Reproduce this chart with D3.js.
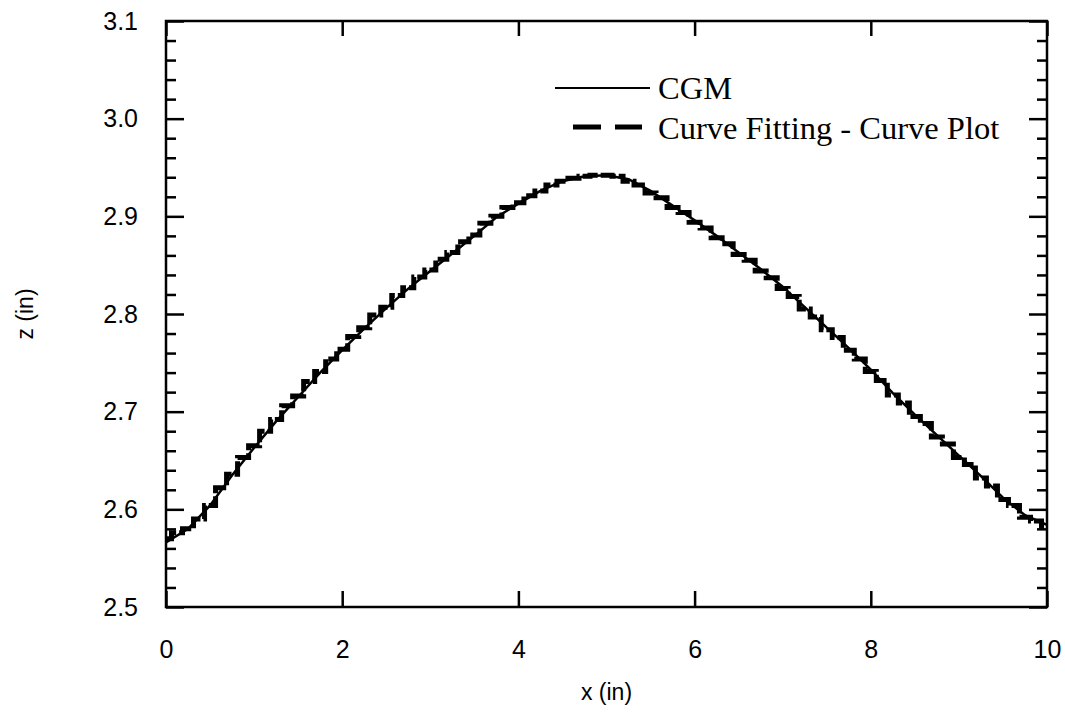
<!DOCTYPE html>
<html>
<head>
<meta charset="utf-8">
<script src="https://cdn.jsdelivr.net/npm/d3@7"></script>
<style>
  html, body { margin: 0; padding: 0; background: #fff; }
  svg { display: block; }
  .tick text { font-family: "Liberation Sans", Arial, sans-serif; font-size: 25px; fill: #000; }
</style>
</head>
<body>
<svg id="chart" width="1065" height="712"></svg>
<script>
// ---- data ----
const xDomain = [0, 10];
const zDomain = [2.5, 3.1];
const xTickValues = [0, 2, 4, 6, 8, 10];
const xTickLabels = ["0", "2", "4", "6", "8", "10"];
const zMajorTicks = [2.5, 2.6, 2.7, 2.8, 2.9, 3.0, 3.1];
const zTickLabels = ["2.5", "2.6", "2.7", "2.8", "2.9", "3.0", "3.1"];
const zMinorTicks = [2.52, 2.54, 2.56, 2.58, 2.62, 2.64, 2.66, 2.68, 2.72, 2.74, 2.76, 2.78,
                     2.82, 2.84, 2.86, 2.88, 2.92, 2.94, 2.96, 2.98, 3.02, 3.04, 3.06, 3.08];

const seriesNames = ["CGM", "Curve Fitting - Curve Plot"];

const cgmX = [0, 0.25, 0.5, 0.75, 1.0, 1.25, 1.5, 1.75, 2.0, 2.25, 2.5, 2.75, 3.0, 3.25, 3.5, 3.75,
              4.0, 4.25, 4.5, 4.75, 5.0, 5.25, 5.5, 5.75, 6.0, 6.25, 6.5, 6.75, 7.0, 7.25, 7.5, 7.75,
              8.0, 8.25, 8.5, 8.75, 9.0, 9.25, 9.5, 9.75, 10.0];
const cgmZ = [2.566, 2.580, 2.604, 2.635, 2.663, 2.690, 2.715, 2.740, 2.763, 2.785, 2.806, 2.826,
              2.844, 2.862, 2.880, 2.899, 2.913, 2.926, 2.936, 2.941, 2.942, 2.938, 2.926, 2.911,
              2.896, 2.880, 2.863, 2.846, 2.828, 2.807, 2.786, 2.765, 2.743, 2.719, 2.697, 2.676,
              2.655, 2.634, 2.612, 2.594, 2.584];

const fitX = [0, 0.125, 0.25, 0.375, 0.5, 0.625, 0.75, 0.875, 1.0, 1.125, 1.25, 1.375, 1.5, 1.625,
              1.75, 1.875, 2.0, 2.125, 2.25, 2.375, 2.5, 2.625, 2.75, 2.875, 3.0, 3.125, 3.25, 3.375,
              3.5, 3.625, 3.75, 3.875, 4.0, 4.125, 4.25, 4.375, 4.5, 4.625, 4.75, 4.875, 5.0, 5.125,
              5.25, 5.375, 5.5, 5.625, 5.75, 5.875, 6.0, 6.125, 6.25, 6.375, 6.5, 6.625, 6.75, 6.875,
              7.0, 7.125, 7.25, 7.375, 7.5, 7.625, 7.75, 7.875, 8.0, 8.125, 8.25, 8.375, 8.5, 8.625,
              8.75, 8.875, 9.0, 9.125, 9.25, 9.375, 9.5, 9.625, 9.75, 9.875, 10.0];
const fitZ = [2.570, 2.576, 2.580, 2.590, 2.604, 2.622, 2.636, 2.653, 2.665, 2.680, 2.692, 2.706,
              2.716, 2.731, 2.741, 2.754, 2.764, 2.777, 2.786, 2.799, 2.807, 2.819, 2.827, 2.838,
              2.845, 2.856, 2.863, 2.874, 2.881, 2.893, 2.900, 2.909, 2.914, 2.921, 2.926, 2.932,
              2.936, 2.939, 2.941, 2.942, 2.942, 2.941, 2.936, 2.932, 2.924, 2.919, 2.909, 2.904,
              2.894, 2.888, 2.878, 2.872, 2.861, 2.855, 2.844, 2.837, 2.826, 2.818, 2.805, 2.797,
              2.784, 2.776, 2.763, 2.754, 2.741, 2.732, 2.717, 2.709, 2.695, 2.688, 2.674, 2.667,
              2.653, 2.646, 2.632, 2.624, 2.610, 2.604, 2.592, 2.588, 2.582];

const xTitle = "x (in)";
const zTitle = "z (in)";

// ---- layout ----
const svg = d3.select("#chart");
const L = 166, R = 1047, T = 21, B = 607;

const x = d3.scaleLinear().domain(xDomain).range([L, R]);
const y = d3.scaleLinear().domain(zDomain).range([B, T]);

svg.append("rect").attr("width", 1065).attr("height", 712).attr("fill", "#fff");

// ---- axes ----
function styleAxis(g) {
  g.select(".domain").remove();
  g.selectAll(".tick line").attr("stroke", "#000").attr("stroke-width", 2.5);
}

svg.append("g").attr("transform", `translate(0,${B})`)
  .call(d3.axisBottom(x).tickValues(xTickValues).tickSize(-16).tickPadding(33)
        .tickFormat((d, i) => xTickLabels[i]))
  .call(styleAxis);
svg.append("g").attr("transform", `translate(0,${T})`)
  .call(d3.axisTop(x).tickValues(xTickValues).tickSize(-15).tickFormat(""))
  .call(styleAxis);
svg.append("g").attr("transform", `translate(${L},0)`)
  .call(d3.axisLeft(y).tickValues(zMajorTicks).tickSize(-18).tickPadding(28)
        .tickFormat((d, i) => zTickLabels[i]))
  .call(styleAxis);
svg.append("g").attr("transform", `translate(${L},0)`)
  .call(d3.axisLeft(y).tickValues(zMinorTicks).tickSize(-10).tickFormat(""))
  .call(styleAxis);
svg.append("g").attr("transform", `translate(${R},0)`)
  .call(d3.axisRight(y).tickValues(zMajorTicks).tickSize(-18).tickFormat(""))
  .call(styleAxis);
svg.append("g").attr("transform", `translate(${R},0)`)
  .call(d3.axisRight(y).tickValues(zMinorTicks).tickSize(-10).tickFormat(""))
  .call(styleAxis);

svg.append("rect").attr("x", L).attr("y", T).attr("width", R - L).attr("height", B - T)
  .attr("fill", "none").attr("stroke", "#000").attr("stroke-width", 2.5);

// ---- series ----
const cgmData = cgmX.map((d, i) => [d, cgmZ[i]]);
const fitData = fitX.map((d, i) => [d, fitZ[i]]);

const line = d3.line().x(d => x(d[0])).y(d => y(d[1]));
const stepLine = d3.line().x(d => x(d[0])).y(d => y(d[1])).curve(d3.curveStep);

svg.append("path").datum(cgmData).attr("d", line)
  .attr("fill", "none").attr("stroke", "#000").attr("stroke-width", 2.5);
svg.append("path").datum(fitData).attr("d", stepLine)
  .attr("fill", "none").attr("stroke", "#000").attr("stroke-width", 5)
  .attr("stroke-dasharray", "16,3");

// ---- titles ----
svg.append("text").attr("x", (L + R) / 2).attr("y", 700)
  .attr("text-anchor", "middle")
  .style("font-family", "Liberation Sans, Arial, sans-serif").style("font-size", "23px")
  .text(xTitle);
svg.append("text").attr("transform", `translate(33,${(T + B) / 2}) rotate(-90)`)
  .attr("text-anchor", "middle")
  .style("font-family", "Liberation Sans, Arial, sans-serif").style("font-size", "23px")
  .text(zTitle);

// ---- legend ----
const legend = svg.append("g");
legend.append("line").attr("x1", 555).attr("x2", 650).attr("y1", 88).attr("y2", 88)
  .attr("stroke", "#000").attr("stroke-width", 2);
legend.append("line").attr("x1", 573).attr("x2", 642).attr("y1", 127).attr("y2", 127)
  .attr("stroke", "#000").attr("stroke-width", 5).attr("stroke-dasharray", "28,14");
legend.append("text").attr("x", 658).attr("y", 99)
  .style("font-family", "Liberation Serif, Times New Roman, serif").style("font-size", "32.5px")
  .text(seriesNames[0]);
legend.append("text").attr("x", 658).attr("y", 139)
  .style("font-family", "Liberation Serif, Times New Roman, serif").style("font-size", "32.5px")
  .text(seriesNames[1]);
</script>
</body>
</html>
